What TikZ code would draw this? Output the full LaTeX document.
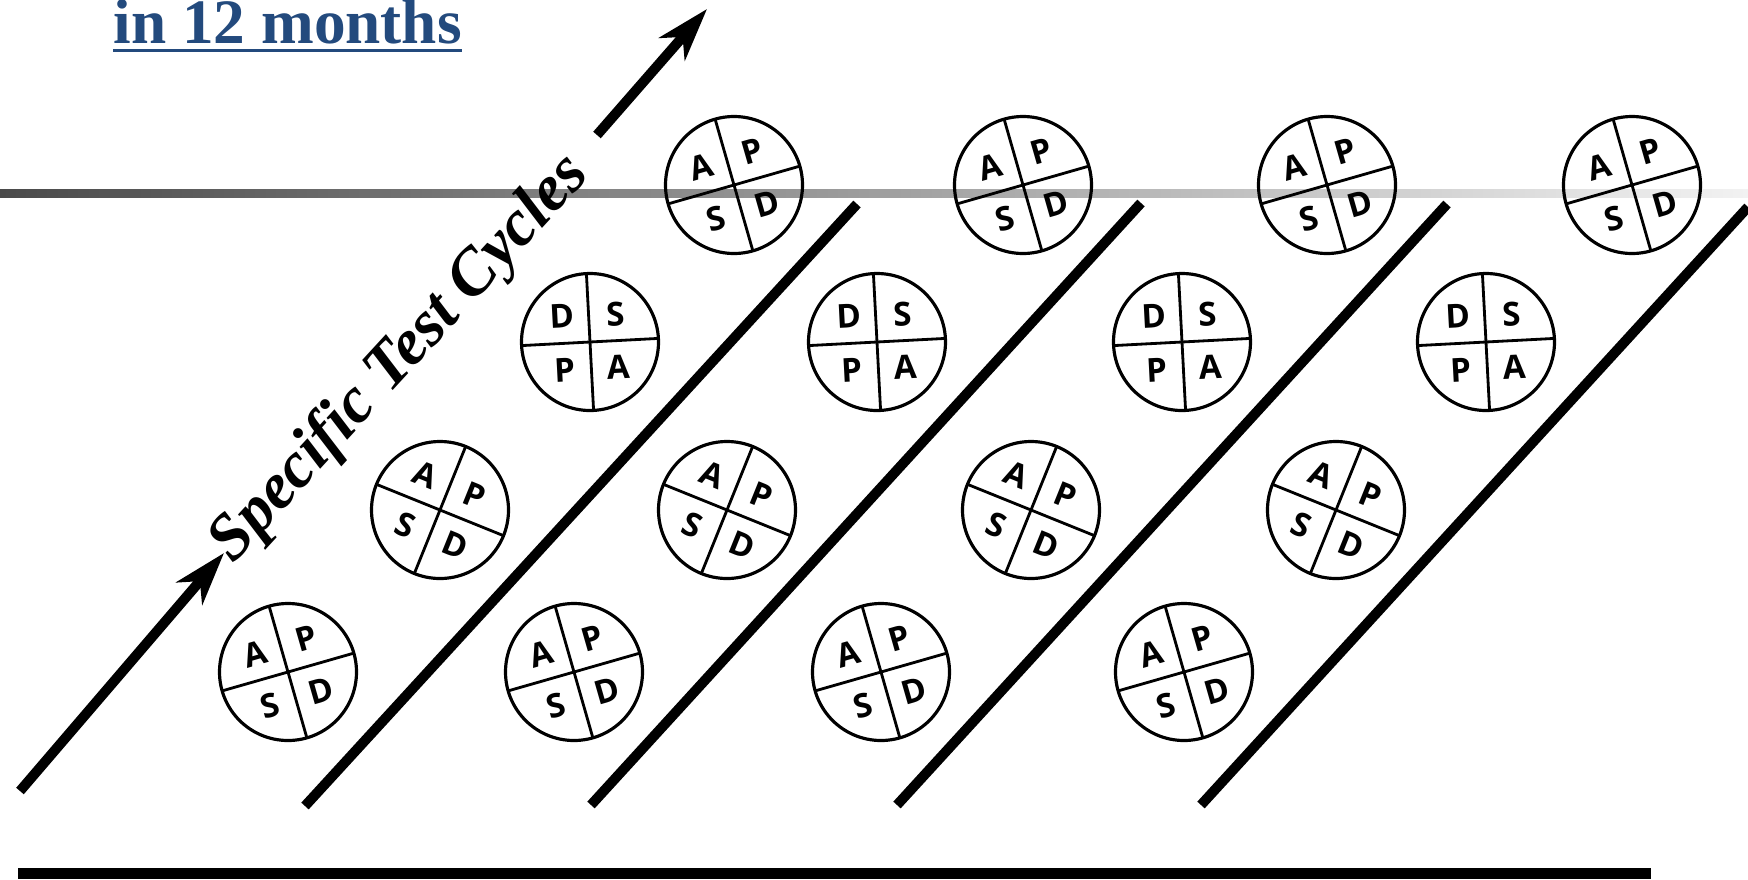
\documentclass[tikz,border=0pt]{standalone}
\usepackage{fontspec}
\setmainfont{Liberation Serif}
\newfontfamily\cyclefont{Open Sans}
\usetikzlibrary{arrows.meta}
\definecolor{titleblue}{HTML}{234A7D}
\definecolor{bandleft}{HTML}{4A4A4A}
\definecolor{bandright}{HTML}{F2F2F2}

\begin{document}
\begin{tikzpicture}[
  font=\rmfamily,
  title/.style={font=\rmfamily\bfseries\fontsize{18}{20}\selectfont, text=titleblue, inner sep=0pt},
  slogan/.style={font=\rmfamily\bfseries\itshape\fontsize{18.6}{20}\selectfont, inner sep=0pt},
  ring/.style={draw, circle, line width=0.9pt, minimum size=1.37cm, inner sep=0pt},
  cross/.style={line width=0.8pt},
  letter/.style={font=\cyclefont\bfseries\fontsize{9.4}{10}\selectfont, inner sep=0pt, transform shape},
  divider/.style={line width=0.1cm},
  push/.style={line width=0.1cm, -{Stealth[length=5.3mm,width=3.4mm,inset=1.6mm]}},
  pics/pdsa/.style args={#1/#2/#3/#4}{code={
    \node[ring] (-ring) at (0,0) {};
    \draw[cross] (90:0.685) -- (270:0.685);
    \draw[cross] (180:0.685) -- (0:0.685);
    \node[letter] (-tl) at (135:0.38) {#1};
    \node[letter] (-tr) at (45:0.38) {#2};
    \node[letter] (-bl) at (225:0.38) {#3};
    \node[letter] (-br) at (315:0.38) {#4};
  }},
]
\useasboundingbox (0,0) rectangle (17.48,8.79);

% ===== title =====
\node[title, anchor=base west] (title) at (1.13,8.36) {in 12 months};
\draw[titleblue, line width=1pt] ([yshift=-0.075cm]title.base west) -- ([yshift=-0.075cm]title.base east);

% ===== fading band =====
\shade[left color=bandleft, right color=bandright] (0,6.815) rectangle (17.48,6.895);

% ===== direction of the cycles =====
\node[slogan, anchor=base, rotate=47.4] (cycles) at (4.12,5.09) {Specific Test Cycles};
\coordinate (lowtail) at (0.20,0.88);
\coordinate (lowtip) at (2.24,3.26);
\coordinate (hightail) at (5.97,7.44);
\coordinate (hightip) at (7.07,8.70);
\draw[push] (lowtail) -- (lowtip);
\draw[push] (hightail) -- (hightip);

% ===== dividers =====
\draw[divider] (3.05,0.73) -- (8.57,6.75);
\draw[divider] (5.91,0.74) -- (11.41,6.76);
\draw[divider] (8.97,0.74) -- (14.47,6.75);
\draw[divider] (12.01,0.74) -- (17.48,6.72);

% ===== row 1 =====
\pic[rotate=16] (r1a) at (2.88,2.07) {pdsa=A/P/S/D};
\pic[rotate=16] (r1b) at (5.74,2.07) {pdsa=A/P/S/D};
\pic[rotate=16] (r1c) at (8.81,2.07) {pdsa=A/P/S/D};
\pic[rotate=16] (r1d) at (11.84,2.07) {pdsa=A/P/S/D};

% ===== row 2 =====
\pic[rotate=-22] (r2a) at (4.40,3.69) {pdsa=A/P/S/D};
\pic[rotate=-22] (r2b) at (7.27,3.69) {pdsa=A/P/S/D};
\pic[rotate=-22] (r2c) at (10.31,3.69) {pdsa=A/P/S/D};
\pic[rotate=-22] (r2d) at (13.36,3.69) {pdsa=A/P/S/D};

% ===== row 3 =====
\pic[rotate=3] (r3a) at (5.90,5.37) {pdsa=D/S/P/A};
\pic[rotate=3] (r3b) at (8.77,5.37) {pdsa=D/S/P/A};
\pic[rotate=3] (r3c) at (11.82,5.37) {pdsa=D/S/P/A};
\pic[rotate=3] (r3d) at (14.86,5.37) {pdsa=D/S/P/A};

% ===== row 4 =====
\pic[rotate=16] (r4a) at (7.34,6.94) {pdsa=A/P/S/D};
\pic[rotate=16] (r4b) at (10.23,6.94) {pdsa=A/P/S/D};
\pic[rotate=16] (r4c) at (13.27,6.94) {pdsa=A/P/S/D};
\pic[rotate=16] (r4d) at (16.32,6.94) {pdsa=A/P/S/D};

% ===== base bar =====
\fill (0.18,0) rectangle (16.51,0.11);

\end{tikzpicture}
\end{document}
